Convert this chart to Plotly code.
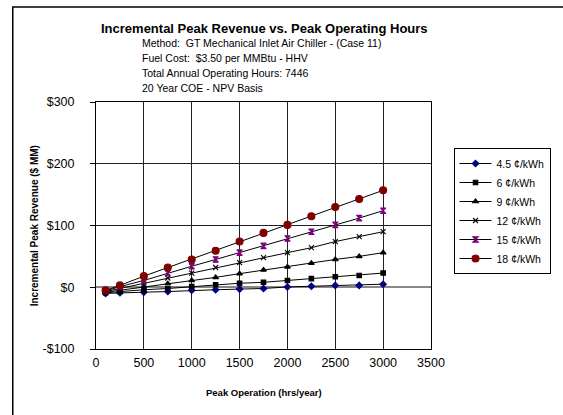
import plotly.graph_objects as go

hours = [100, 250, 500, 750, 1000, 1250, 1500, 1750, 2000, 2250, 2500, 2750, 3000]
rev_4_5 = [-10, -9, -8, -7, -5, -4, -3, -2, 0.5, 1.5, 3, 3, 5]
rev_6 = [-9, -7, -4, -2, 1, 4, 6.5, 8, 11, 14, 17, 19, 23]
rev_9 = [-8, -5, 1, 6, 11, 16, 22, 28, 33, 39, 45, 50, 56]
rev_12 = [-7, -2, 7, 15, 23, 32, 40, 48, 56, 64, 74, 82, 90]
rev_15 = [-6, 1, 11, 23, 34, 45, 56, 67, 79, 90, 101, 112, 124]
rev_18 = [-5, 3, 18, 32, 45, 59, 74, 88, 101, 115, 130, 143, 157]

series_names = ["4.5 ¢/kWh", "6 ¢/kWh", "9 ¢/kWh", "12 ¢/kWh", "15 ¢/kWh", "18 ¢/kWh"]
series_vals = [rev_4_5, rev_6, rev_9, rev_12, rev_15, rev_18]
marker_syms = ["diamond", "square", "triangle-up", "x-thin-open", "hourglass", "circle"]
marker_cols = ["#000080", "#000000", "#000000", "#000000", "#800080", "#800000"]
marker_sizes = [5, 4.5, 5, 5, 5.5, 7]

x_ticks = [0, 500, 1000, 1500, 2000, 2500, 3000, 3500]
y_ticks = [-100, 0, 100, 200, 300]
y_labels = ["-$100", "$0", "$100", "$200", "$300"]

FONT = "Liberation Sans, Arial, sans-serif"

fig = go.Figure()
for name, vals, sym, col, sz in zip(series_names, series_vals, marker_syms, marker_cols, marker_sizes):
    fig.add_trace(go.Scatter(
        x=hours, y=vals, name=name, mode="lines+markers",
        line=dict(color="black", width=1),
        marker=dict(symbol=sym, color=col, size=sz,
                    line=dict(color=col, width=1.1)),
    ))

W, H = 563, 415
L, R, T, B = 96, W - 438, 102, H - 349
pw = W - L - R
ph = H - T - B

def px_x(p):
    return (p - L) / pw

def px_y(p):
    return (H - B - p) / ph

fig.update_layout(
    width=W, height=H, autosize=False,
    margin=dict(l=L, r=R, t=T, b=B),
    paper_bgcolor="white", plot_bgcolor="white",
    font=dict(family=FONT, color="black"),
    showlegend=True,
    legend=dict(
        x=px_x(461), y=px_y(148), xanchor="left", yanchor="top",
        bordercolor="black", borderwidth=1, bgcolor="white",
        font=dict(size=10.5, family=FONT), itemwidth=32,
        tracegroupgap=0,
    ),
    xaxis=dict(
        range=[0, 3500], tickvals=x_ticks, showgrid=True,
        gridcolor="#222222", gridwidth=1, zeroline=False,
        showline=True, linecolor="black", linewidth=1, mirror=True,
        ticks="", ticklen=0, tickfont=dict(size=12.5, family=FONT),
        ticklabelstandoff=2,
    ),
    yaxis=dict(
        range=[-100, 300], tickvals=y_ticks, ticktext=y_labels, showgrid=True,
        gridcolor="#222222", gridwidth=1, zeroline=True, zerolinecolor="#888888", zerolinewidth=2,
        showline=True, linecolor="black", linewidth=1, mirror=True,
        ticks="outside", ticklen=5, tickcolor="black",
        tickfont=dict(size=12.5, family=FONT), ticklabelstandoff=13,
    ),
)

# outer chart border
fig.add_shape(type="rect", xref="paper", yref="paper",
              x0=px_x(11), x1=px_x(575), y0=px_y(425), y1=px_y(7),
              line=dict(color="black", width=1.5), fillcolor="rgba(0,0,0,0)", layer="below")

fig.add_annotation(text="<b>Incremental Peak Revenue vs. Peak Operating Hours</b>",
                   xref="paper", yref="paper", x=px_x(268), y=px_y(28),
                   xanchor="center", yanchor="middle", showarrow=False,
                   font=dict(size=13, family=FONT))
subs = ["Method:  GT Mechanical Inlet Air Chiller - (Case 11)",
        "Fuel Cost:  $3.50 per MMBtu - HHV",
        "Total Annual Operating Hours: 7446",
        "20 Year COE - NPV Basis"]
for i, s in enumerate(subs):
    fig.add_annotation(text=s, xref="paper", yref="paper",
                       x=px_x(141), y=px_y(43 + 15 * i),
                       xanchor="left", yanchor="middle", showarrow=False,
                       font=dict(size=10.5, family=FONT))

# axis titles
fig.add_annotation(text="<b>Peak Operation (hrs/year)</b>", xref="paper", yref="paper",
                   x=px_x(267), y=px_y(392), xanchor="center", yanchor="middle",
                   showarrow=False, font=dict(size=9.5, family=FONT))
fig.add_annotation(text="<b>Incremental Peak Revenue ($ MM)</b>", xref="paper", yref="paper",
                   x=px_x(33), y=px_y(226), xanchor="center", yanchor="middle",
                   textangle=-90, showarrow=False, font=dict(size=10, family=FONT))

fig.write_html("out.html",
               config={"responsive": False, "displayModeBar": False},
               post_script="document.body.style.margin='0';document.body.style.overflow='hidden';")
